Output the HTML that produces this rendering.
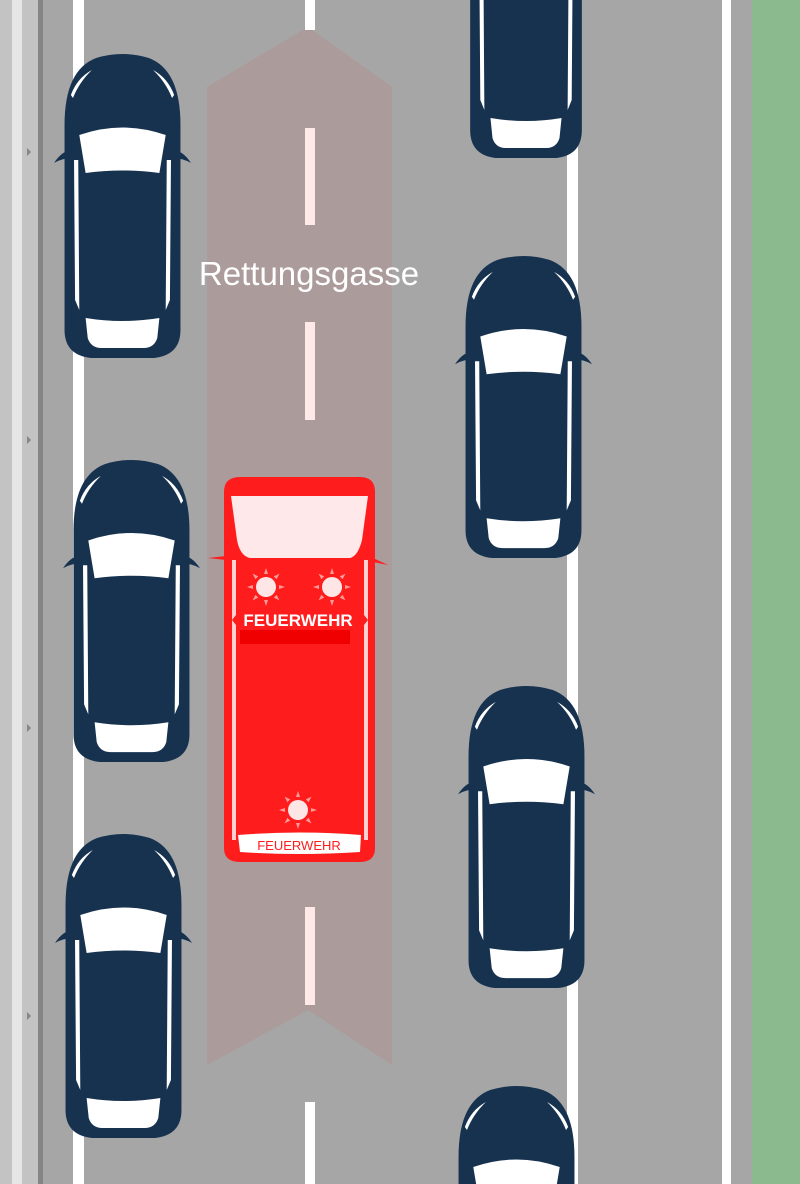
<!DOCTYPE html>
<html><head><meta charset="utf-8"><style>
html,body{margin:0;padding:0;width:800px;height:1184px;overflow:hidden;}
body{background:#a6a6a6;}
svg{display:block;overflow:hidden;}
</style></head><body>
<svg width="800" height="1184" viewBox="0 0 800 1184" xmlns="http://www.w3.org/2000/svg">
<defs>
<symbol id="car" viewBox="0 0 130 310" preserveAspectRatio="none">
  <path d="M10,75 Q10,20 40,8 Q65,0 90,8 Q120,20 120,75 L120,280 Q120,305 95,308 L35,308 Q10,305 10,280 Z" fill="#17324f"/>
  <path d="M0,113 Q8,100 18,100 L18,108 Q8,108 0,113Z M130,113 Q122,100 112,100 L112,108 Q122,108 130,113Z" fill="#17324f"/>
  <path d="M24,85 Q65,70 106,85 L100,123 Q65,118 30,123 Z" fill="#fff"/>
  <path d="M30,268 Q65,274 100,268 L98,288 Q95,298 85,298 L45,298 Q35,298 32,288 Z" fill="#fff"/>
  <path d="M19,110 L23,110 L24,260 L20,250 Z M111,110 L107,110 L106,260 L110,250 Z" fill="#fff"/>
  <path d="M16,45 Q22,28 36,20 Q24,32 18,48Z M114,45 Q108,28 94,20 Q106,32 112,48Z" fill="#fff"/>
</symbol>
<g id="sun">
  <circle r="10" fill="#ffe6e6"/>
  <g fill="#ff9a9a">
   <polygon points="-2,-13 2,-13 0,-19"/><polygon points="-2,13 2,13 0,19"/>
   <polygon points="-13,-2 -13,2 -19,0"/><polygon points="13,-2 13,2 19,0"/>
   <polygon points="-2,-13 2,-13 0,-19" transform="rotate(45)"/><polygon points="-2,-13 2,-13 0,-19" transform="rotate(135)"/>
   <polygon points="-2,-13 2,-13 0,-19" transform="rotate(225)"/><polygon points="-2,-13 2,-13 0,-19" transform="rotate(315)"/>
  </g>
</g>
</defs>
<rect x="0" y="0" width="43" height="1184" fill="#c3c3c3"/>
<rect x="12" y="0" width="10" height="1184" fill="#e6e6e6"/>
<rect x="38" y="0" width="5" height="1184" fill="#858585"/>
<g fill="#858585"><polygon points="27,148 31,152 27,156"/><polygon points="27,436 31,440 27,444"/><polygon points="27,724 31,728 27,732"/><polygon points="27,1012 31,1016 27,1020"/></g>
<rect x="73" y="0" width="11" height="1184" fill="#fff"/>
<rect x="722" y="0" width="9" height="1184" fill="#fff"/>
<rect x="752" y="0" width="48" height="1184" fill="#8cba8f"/>
<rect x="567" y="0" width="11" height="1184" fill="#fff"/>
<polygon points="207,87 308,27 392,87 392,1065 308,1010 207,1065" fill="#ab9b9b"/>
<g fill="#ffe8e8">
<rect x="305" y="0" width="10" height="30" fill="#fff"/>
<rect x="305" y="128" width="10" height="97"/>
<rect x="305" y="322" width="10" height="98"/>
<rect x="305" y="907" width="10" height="98"/>
<rect x="305" y="1102" width="10" height="82" fill="#fff"/>
</g>
<text x="309" y="285" font-family="Liberation Sans, sans-serif" font-size="33" fill="#fff" text-anchor="middle">Rettungsgasse</text>
<use href="#car" x="54" y="50" width="137" height="310"/>
<use href="#car" x="63" y="456" width="137" height="308"/>
<use href="#car" x="55" y="830" width="137" height="310"/>
<svg x="460" y="0" width="132" height="160"><use href="#car" x="0" y="-150" width="132" height="310"/></svg>
<use href="#car" x="455" y="252" width="137" height="308"/>
<use href="#car" x="458" y="682" width="137" height="308"/>
<svg x="448" y="1082" width="137" height="102"><use href="#car" x="0" y="0" width="137" height="310"/></svg>
<path d="M224,492 Q224,477 240,477 L360,477 Q375,477 375,492 L375,848 Q375,862 360,862 L240,862 Q224,862 224,848 Z" fill="#ff1c1c"/>
<path d="M231,496 L368,496 L362,540 Q358,556 350,558 L250,558 Q240,556 237,540 Z" fill="#ffe8ea"/>
<rect x="232" y="560" width="4" height="280" fill="#ffd0d0"/>
<rect x="364" y="560" width="4" height="280" fill="#ffd0d0"/>
<path d="M208,558 L226,556 L226,560 Z M373,558 L388,565 L373,562 Z" fill="#ff1c1c"/>
<use href="#sun" x="266" y="587"/>
<use href="#sun" x="332" y="587"/>
<use href="#sun" x="298" y="810"/>
<polygon points="232,620 240,610 360,610 368,620 360,630 240,630" fill="#ff1c1c"/>
<text x="298" y="626" font-family="Liberation Sans, sans-serif" font-weight="bold" font-size="17" fill="#fff" text-anchor="middle">FEUERWEHR</text>
<rect x="240" y="630" width="110" height="14" fill="#f00000"/>
<path d="M238,835 Q300,830 361,835 L360,852 Q300,856 240,852 Z" fill="#fff"/>
<text x="299" y="850" font-family="Liberation Sans, sans-serif" font-size="13" fill="#ff1c1c" text-anchor="middle">FEUERWEHR</text>
</svg>
</body></html>
